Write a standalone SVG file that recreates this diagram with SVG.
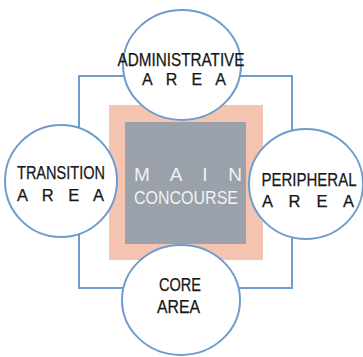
<svg xmlns="http://www.w3.org/2000/svg" width="363" height="357" viewBox="0 0 363 357">
  <style>
    .ring { fill: #ffffff; stroke: #6e9ccd; stroke-width: 2; }
    .frame { fill: none; stroke: #6e9ccd; stroke-width: 2; }
    .lbl { font-family: "Liberation Sans Narrow", "Liberation Sans", Arial, sans-serif; fill: #161616; stroke: #161616; stroke-width: 0.25; text-anchor: middle; }
    .inv { font-family: "Liberation Sans Narrow", "Liberation Sans", Arial, sans-serif; fill: #f2f2f2; text-anchor: middle; }
  </style>
  <rect width="363" height="357" fill="#ffffff"/>

  <!-- frame that ties the four areas together -->
  <g id="connectors">
    <rect class="frame" x="79" y="76" width="213" height="212"/>
  </g>

  <!-- central concourse with its buffer zone -->
  <g id="main-concourse">
    <rect x="109" y="105" width="154" height="155" fill="#f5c4b1"/>
    <rect x="125" y="122" width="121" height="122" fill="#9aa1aa"/>
    <text class="inv" x="188" y="181" font-size="19" textLength="108" lengthAdjust="spacing">M A I N</text>
    <text class="inv" x="186" y="204" font-size="17.5" textLength="104" lengthAdjust="spacingAndGlyphs">CONCOURSE</text>
  </g>

  <g id="administrative-area">
    <ellipse class="ring" cx="182" cy="65" rx="59" ry="55"/>
    <text class="lbl" x="181" y="66" font-size="18" textLength="127" lengthAdjust="spacingAndGlyphs">ADMINISTRATIVE</text>
    <text class="lbl" x="184" y="85" font-size="16" textLength="84" lengthAdjust="spacing">A R E A</text>
  </g>

  <g id="transition-area">
    <ellipse class="ring" cx="61" cy="181" rx="56" ry="56"/>
    <text class="lbl" x="61" y="179" font-size="18" textLength="88" lengthAdjust="spacingAndGlyphs">TRANSITION</text>
    <text class="lbl" x="60.5" y="201" font-size="16.5" textLength="87" lengthAdjust="spacing">A R E A</text>
  </g>

  <g id="peripheral-area">
    <ellipse class="ring" cx="306" cy="184" rx="57" ry="55"/>
    <text class="lbl" x="309" y="186" font-size="18" textLength="95" lengthAdjust="spacingAndGlyphs">PERIPHERAL</text>
    <text class="lbl" x="308" y="207" font-size="16.5" textLength="92" lengthAdjust="spacing">A R E A</text>
  </g>

  <g id="core-area">
    <ellipse class="ring" cx="181" cy="300" rx="59" ry="55"/>
    <text class="lbl" x="180" y="291" font-size="18" textLength="42" lengthAdjust="spacingAndGlyphs">CORE</text>
    <text class="lbl" x="178.5" y="313" font-size="18" textLength="43" lengthAdjust="spacingAndGlyphs">AREA</text>
  </g>
</svg>
